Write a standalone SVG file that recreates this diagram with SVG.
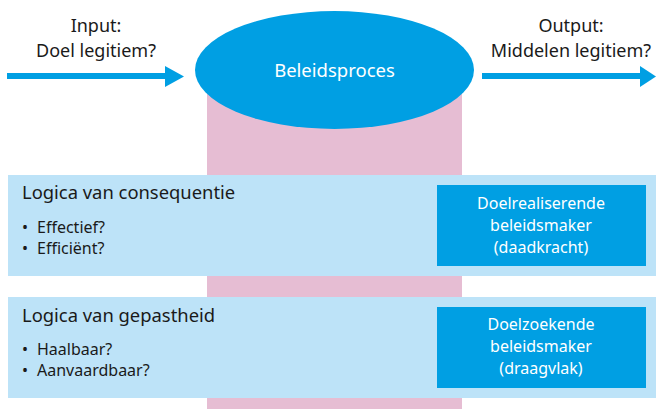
<svg xmlns="http://www.w3.org/2000/svg" width="656" height="409" viewBox="0 0 656 409">
  <defs>
    <style>
      text { font-family: "Noto Sans", "Open Sans", sans-serif; }
      .lbl { font-size: 18px; fill: #1a1a1a; text-anchor: middle; }
      .head { font-size: 18.4px; fill: #1a1a1a; }
      .item { font-size: 16px; fill: #1a1a1a; }
      .wt { font-size: 16px; fill: #ffffff; text-anchor: middle; }
      .band { fill: #BDE3F8; }
      .box { fill: #009FE3; }
      .arrow { stroke: #009FE3; stroke-width: 6; fill: none; }
      .head-arr { fill: #009FE3; }
    </style>
  </defs>
  <rect width="656" height="409" fill="#ffffff"/>
  <g id="pillar">
    <rect x="207" y="70" width="255" height="339" fill="#E6BDD3"/>
  </g>
  <g id="connectors">
    <line class="arrow" x1="7" y1="76" x2="166" y2="76"/>
    <polygon class="head-arr" points="165,66 184,76.5 165,87"/>
    <line class="arrow" x1="482" y1="76" x2="641" y2="76"/>
    <polygon class="head-arr" points="640,66 656,76.5 640,87"/>
  </g>
  <g id="input-label">
    <text class="lbl" x="96" y="32">Input:</text>
    <text class="lbl" x="96" y="57">Doel legitiem?</text>
  </g>
  <g id="output-label">
    <text class="lbl" x="571" y="32">Output:</text>
    <text class="lbl" x="571" y="57">Middelen legitiem?</text>
  </g>
  <g id="beleidsproces">
    <ellipse cx="334.5" cy="70" rx="139.5" ry="59" fill="#009FE3"/>
    <text class="wt" x="334.5" y="77" style="font-size:18.5px">Beleidsproces</text>
  </g>
  <g id="consequentie">
    <rect class="band" x="8" y="175" width="648" height="101"/>
    <text class="head" x="22" y="199">Logica van consequentie</text>
    <text class="item" x="22" y="233">•</text>
    <text class="item" x="37" y="233">Effectief?</text>
    <text class="item" x="22" y="254">•</text>
    <text class="item" x="37" y="254">Efficiënt?</text>
  </g>
  <g id="doelrealiserende">
    <rect class="box" x="437" y="185" width="209" height="81"/>
    <text class="wt" x="541" y="209">Doelrealiserende</text>
    <text class="wt" x="541" y="231">beleidsmaker</text>
    <text class="wt" x="541" y="253">(daadkracht)</text>
  </g>
  <g id="gepastheid">
    <rect class="band" x="8" y="297" width="648" height="101"/>
    <text class="head" x="22" y="322">Logica van gepastheid</text>
    <text class="item" x="22" y="355">•</text>
    <text class="item" x="37" y="355">Haalbaar?</text>
    <text class="item" x="22" y="376">•</text>
    <text class="item" x="37" y="376">Aanvaardbaar?</text>
  </g>
  <g id="doelzoekende">
    <rect class="box" x="437" y="307" width="209" height="81"/>
    <text class="wt" x="541" y="330">Doelzoekende</text>
    <text class="wt" x="541" y="352">beleidsmaker</text>
    <text class="wt" x="541" y="374">(draagvlak)</text>
  </g>
</svg>
